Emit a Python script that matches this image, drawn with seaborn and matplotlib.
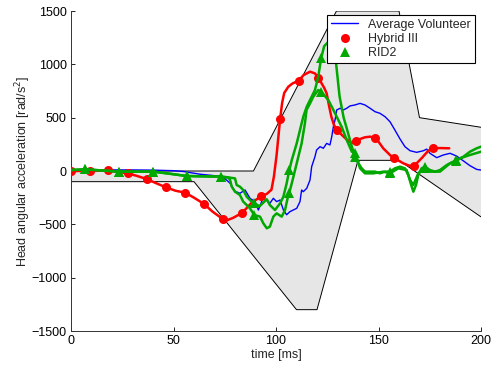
import numpy as np
import matplotlib
matplotlib.use("Agg")
import matplotlib.pyplot as plt
from matplotlib.lines import Line2D
import seaborn as sns

# ---------------- data ----------------
corr_upper_t = [0, 89, 129.5, 160, 170, 200]
corr_upper_v = [0, 0, 1500, 1500, 500, 410]
corr_lower_t = [0, 60, 110, 120, 140, 160, 200]
corr_lower_v = [-100, -100, -1300, -1300, 100, 100, -430]

vol_t = [0, 10, 20, 30, 40, 50, 55, 62.9, 68, 72.7, 75, 77.6, 80, 82.4, 84.9, 87.3, 89.8,
         91.4, 93, 93.8, 95.5, 97, 98.7, 100.3, 102, 103.6, 105.2, 106.8, 108.4, 110.1,
         111.7, 112.5, 113.3, 115, 116.6, 117.4, 119, 119.8, 121.5, 123.1, 124.7, 126.3,
         127.2, 128, 128.8, 129.6, 131.2, 132.8, 134.5, 136.1, 138.5, 141, 143.4, 145.9,
         148.3, 150.7, 153.2, 155.6, 158, 160.5, 162.9, 165.4, 168.6, 171.9, 173.5, 175.1,
         178.4, 181.6, 184.9, 188.1, 191.4, 194.6, 197.9, 200]
vol_v = [0, 8, 10, 10, 8, 3, -5, -30, -40, -50, -70, -115, -190, -209, -178, -256, -287,
         -366, -287, -256, -272, -303, -256, -287, -272, -366, -410, -381, -366, -350,
         -287, -178, -194, -162, -84, 41, 134, 197, 228, 213, 259, 244,
         322, 416, 478, 572, 588, 572, 588, 610, 619, 634, 619, 588,
         556, 541, 509, 462, 384, 300, 228, 190, 175, 190, 205, 166,
         125, 150, 166, 140, 95, 50, 15, 9]

h3_t = [0, 9.4, 18.2, 27.6, 32, 36.9, 41, 46.3, 51, 55.6, 60, 64.9, 69, 74, 76, 79, 83.4,
        88, 92.7, 95.5, 97.8, 99, 100.3, 102, 103, 104, 106, 108, 111, 113.5, 116.6, 119,
        120.6, 122, 123.5, 124.7, 126, 127, 128.3, 129.9, 132, 134.5, 137, 139, 141, 143.4,
        146, 148.3, 150, 152.3, 155.6, 157.7, 160, 162.1, 165, 167.3, 169, 171, 174.3,
        176.4, 180, 184.5]
h3_v = [0, 0, 6, -22, -45, -75, -110, -153, -185, -203, -250, -309, -380, -450, -462, -440,
        -394, -300, -237, -215, -175, -50, 150, 487, 640, 731, 790, 820, 847, 900, 931, 915,
        875, 830, 780, 728, 600, 509, 430, 384, 340, 295, 262, 284, 300, 316,
        322, 306, 275, 213, 150, 119, 95, 72, 50, 47, 80, 119, 190,
        213, 215, 213]
h3_mark_t = [0, 9.4, 18.2, 27.6, 36.9, 46.3, 55.6, 64.9, 74, 83.4, 92.7, 102, 111, 120.6,
             129.9, 139, 148.3, 157.7, 167.3, 176.4]

rid_early_t = [0, 6.8, 15, 23.6, 32, 40.1, 48, 56.4, 65, 73.2, 76.7]
rid_early_v = [9, 16, 5, -6, -6, -6, -25, -47, -50, -53, -60]

rid_a_t = [80, 80.8, 82.4, 84, 85.7, 88.1, 89.4, 92, 95.5, 97, 99.5, 102, 103.6, 105.2,
           106.5, 107.7, 110.1, 111.7, 113.3, 115, 117.4, 119, 120.6, 122, 123.5, 126,
           128, 129.3, 131, 133, 134.5, 137, 138.5, 140.2, 141.8, 143.4, 145.9, 148.3,
           150.7, 153.2, 155.6, 158, 160.5, 162.9, 164.5, 166.2, 167, 168.3, 169.4, 171,
           172.7, 175.1, 177.6, 180, 183.3, 186.5, 188, 191.4, 194.6, 197.9, 200]
rid_a_v = [-69, -131, -147, -178, -241, -287, -303, -330, -265, -319, -366, -303, -241, -115,
           9, 103, 259, 384, 509, 603, 697, 759, 884, 1056, 1170, 1220,
           1100, 1010, 700, 500, 400, 228, 134, 72, 25, -6, -6, -6,
           -22, -6, -6, 25, 41, 25, -37, -147, -194, -131, -37, 25,
           41, 9, -6, 9, 56, 88, 100, 134, 181, 213, 228]

rid_b_t = [77.6, 78.4, 80, 82.4, 84, 85.7, 87.3, 89.4, 92.2, 93.8, 95.5, 97, 98.7, 100.3,
           102.8, 104.4, 106, 106.5, 107.7, 109.3, 110.9, 112.5, 114.1, 114.9, 116.6, 118.2,
           120.6, 122, 125.5, 128, 129.6, 132, 134.5, 137, 138.5, 141, 143.4, 147.5, 152.4,
           155.6, 159.7, 163.7, 165.4, 167, 169.4, 172.7, 175.1, 180, 184.9, 188, 189.8,
           194.6, 200]
rid_b_v = [-84, -147, -194, -225, -287, -319, -350, -412, -428, -490, -537, -522, -428, -397,
           -428, -366, -225, -203, -115, 9, 134, 259, 447, 572, 634, 697,
           759, 744, 666, 572, 509, 416, 291, 181, 166, 25, -22, -22, -6,
           -22, 25, 9, -84, -131, -22, 30, -6, -6, 72, 95, 119,
           150, 181]
rid_mark_t = [6.8, 23.6, 40.1, 56.4, 73.2, 89.4, 106.5, 122, 138.5, 155.6, 172.7, 188]

x_ticks = [0, 50, 100, 150, 200]
y_ticks = [-1500, -1000, -500, 0, 500, 1000, 1500]
labels = ["Average Volunteer", "Hybrid III", "RID2"]

# ---------------- styling ----------------
sns.set_theme(style="white")
plt.rcParams["font.family"] = ["Liberation Sans", "DejaVu Sans"]

C_BLUE = "#0000ff"
C_RED = "#ff0000"
C_GREEN = "#00a800"

fig = plt.figure(figsize=(4.92, 3.66), dpi=100)
ax = fig.add_axes([71 / 492, 1 - 331 / 366, 410 / 492, 320 / 366])

# corridor
up_t = np.array(corr_upper_t, float)
up_v = np.array(corr_upper_v, float)
lo_t = np.array(corr_lower_t, float)
lo_v = np.array(corr_lower_v, float)
poly_t = np.concatenate([up_t, lo_t[::-1]])
poly_v = np.concatenate([up_v, lo_v[::-1]])
ax.fill(poly_t, poly_v, color=(0.9, 0.9, 0.9), lw=0, zorder=1)
ax.plot(up_t, up_v, color="black", lw=0.7, zorder=1.5)
ax.plot(lo_t, lo_v, color="black", lw=0.7, zorder=1.5)

# average volunteer
sns.lineplot(x=vol_t, y=vol_v, color=C_BLUE, lw=1.0, ax=ax, zorder=3, legend=False)

# Hybrid III
h3_mask = np.isin(np.array(h3_t), np.array(h3_mark_t))
sns.lineplot(x=h3_t, y=h3_v, color=C_RED, lw=1.8, marker="o", markersize=6.5,
             markevery=list(h3_mask), mec=C_RED, mfc=C_RED, mew=0,
             ax=ax, zorder=4, legend=False)

# RID2 (two tests)
for tt, vv in [(rid_early_t + rid_a_t, rid_early_v + rid_a_v),
               (rid_early_t + rid_b_t, rid_early_v + rid_b_v)]:
    mask = np.isin(np.array(tt), np.array(rid_mark_t))
    sns.lineplot(x=tt, y=vv, color=C_GREEN, lw=1.8, marker="^", markersize=7,
                 markevery=list(mask), mec=C_GREEN, mfc=C_GREEN, mew=0,
                 ax=ax, zorder=5, legend=False)

ax.set_xlim(0, 200)
ax.set_ylim(-1500, 1500)
ax.set_xticks(x_ticks)
ax.set_yticks(y_ticks)
ax.tick_params(direction="in", length=3, width=0.6, labelsize=9, pad=3,
               colors="black", bottom=True, left=True)
for s in ["top", "right"]:
    ax.spines[s].set_visible(False)
for s in ["left", "bottom"]:
    ax.spines[s].set_color("#333333")
    ax.spines[s].set_linewidth(0.7)
ax.set_xlabel("time [ms]", fontsize=9, labelpad=1)
ax.set_ylabel("Head angular acceleration [rad/s$^2$]", fontsize=9, labelpad=-1)

handles = [Line2D([], [], color=C_BLUE, lw=1.0),
           Line2D([], [], color=C_RED, lw=0, marker="o", ms=6.5, mew=0),
           Line2D([], [], color=C_GREEN, lw=0, marker="^", ms=7, mew=0)]
leg = ax.legend(handles, labels, loc="upper right", bbox_to_anchor=(0.985, 0.9875),
                fontsize=9, frameon=True, fancybox=False, framealpha=1,
                edgecolor="black", borderpad=0.3, labelspacing=0.18,
                handlelength=2.2, handletextpad=0.8, borderaxespad=0)
leg.get_frame().set_linewidth(0.8)
leg.set_zorder(10)

fig.savefig("out.png", dpi=100)
